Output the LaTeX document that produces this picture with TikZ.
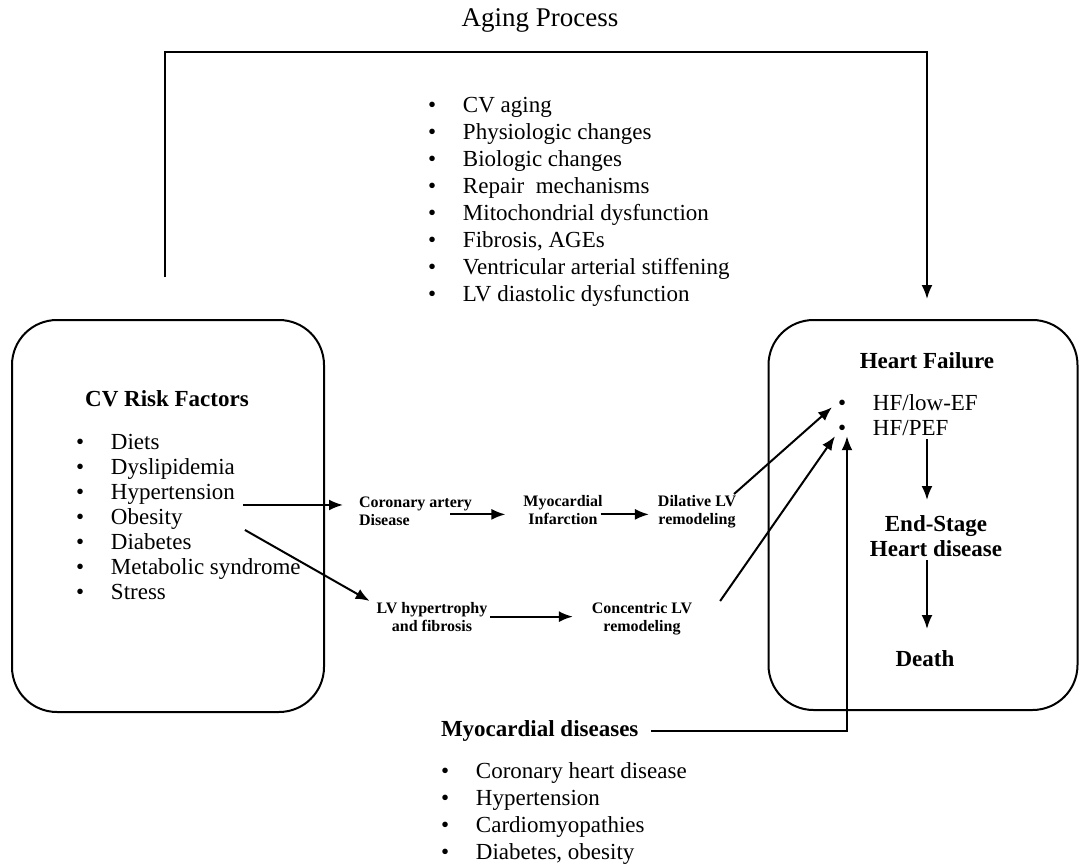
\documentclass[tikz,border=0pt]{standalone}
\usepackage{fontspec}
\setmainfont{Liberation Serif}
\usetikzlibrary{arrows.meta}
\newcommand\itemdot{\makebox[35pt][l]{\textbullet}}

\begin{document}
\begin{tikzpicture}[x=1pt,y=-1pt,line width=2pt,
	box/.style={draw,rounded corners=45pt},
	txt/.style={inner sep=0pt,font=\fontsize{23}{27}\selectfont},
	item/.style={txt,anchor=base west},
	small/.style={inner sep=0pt,font=\fontsize{16}{18}\selectfont\bfseries,align=center},
	arr/.style={-{Latex[length=14pt,width=11pt]}}]
	\useasboundingbox (0,0) rectangle (1080,868);
	% boxes
	\node (rfbox) at (168,516) [box,minimum width=312pt,minimum height=392pt] {};
	\node (hfbox) at (923,515) [box,minimum width=309pt,minimum height=390pt] {};
	% titles
	\node (aging) at (540,26) [txt,anchor=base,font=\fontsize{27}{30}\selectfont] {Aging Process};
	\node (rft) at (167,406) [txt,anchor=base,font=\fontsize{23}{27}\selectfont\bfseries] {CV Risk Factors};
	\node (hft) at (927,368) [txt,anchor=base,font=\fontsize{23}{27}\selectfont\bfseries] {Heart Failure};
	\node (end) at (936,515) [txt,anchor=north,align=center,font=\fontsize{23}{25}\selectfont\bfseries] {End-Stage\\Heart disease};
	\node (death) at (925,666) [txt,anchor=base,font=\fontsize{23}{27}\selectfont\bfseries] {Death};
	\node (myo) at (440,736) [txt,anchor=base west,font=\fontsize{23}{27}\selectfont\bfseries] {Myocardial diseases};
	% lists
	\foreach \t [count=\i from 0] in {CV aging,Physiologic changes,Biologic changes,Repair\ \ mechanisms,Mitochondrial dysfunction,{Fibrosis, AGEs},Ventricular arterial stiffening,LV diastolic dysfunction}
		\node (age\i) at (427,112+27*\i) [item] {\itemdot\t};
	\foreach \t [count=\i from 0] in {Diets,Dyslipidemia,Hypertension,Obesity,Diabetes,Metabolic syndrome,Stress}
		\node (rf\i) at (75,449+25*\i) [item] {\itemdot\t};
	\foreach \t [count=\i from 0] in {HF/low-EF,HF/PEF}
		\node (hf\i) at (837,410+25*\i) [item] {\itemdot\t};
	\foreach \t [count=\i from 0] in {Coronary heart disease,Hypertension,Cardiomyopathies,{Diabetes, obesity}}
		\node (myo\i) at (440,778+27*\i) [item] {\itemdot\t};
	% middle steps
	\node (cad) at (358,496) [small,anchor=north west,align=left] {Coronary artery\\Disease};
	\node (mi) at (563,494) [small,anchor=north] {Myocardial\\Infarction};
	\node (dil) at (697,494) [small,anchor=north] {Dilative LV\\remodeling};
	\node (lvh) at (432,601) [small,anchor=north] {LV hypertrophy\\and fibrosis};
	\node (con) at (642,601) [small,anchor=north] {Concentric LV\\remodeling};
	% connectors
	\draw [arr] ([xshift=-3pt,yshift=42pt]rfbox.north) -- ++(0,-225) -| ([xshift=4pt,yshift=20pt]hfbox.north);
	\draw [arr] ([xshift=7pt]rf2.south east) -- ([xshift=-15pt]cad.west |- rf2.south east);
	\draw [arr] ([xshift=9pt]rf2.east |- rf3.south) -- ([xshift=-6pt]lvh.north west);
	\draw [arr] ([xshift=-23pt,yshift=-3pt]cad.east) -- ([xshift=-17pt,yshift=-3pt]mi.west |- cad.east);
	\draw [arr] ([xshift=-3pt,yshift=-3pt]mi.east |- cad.east) -- ([xshift=-8pt,yshift=-3pt]dil.west |- cad.east);
	\draw [arr] ([xshift=2pt]lvh.east) -- ([xshift=-18pt]con.west |- lvh.east);
	\draw [arr] ([xshift=-3pt]dil.north east) -- ([xshift=-5pt,yshift=4pt]hf0.south west);
	\draw [arr] ([xshift=27pt]con.north east) -- ([xshift=-2pt]hf1.south west);
	\draw [arr] ([xshift=12pt]myo.east) -| ([xshift=10pt]hf1.south west);
	\draw [arr,shorten <=3pt,shorten >=15pt] (hft.south |- hf1.south) -- (hft.south |- end.north);
	\draw [arr,shorten <=2pt,shorten >=20pt] (hft.south |- end.south) -- (hft.south |- death.north);
\end{tikzpicture}
\end{document}
